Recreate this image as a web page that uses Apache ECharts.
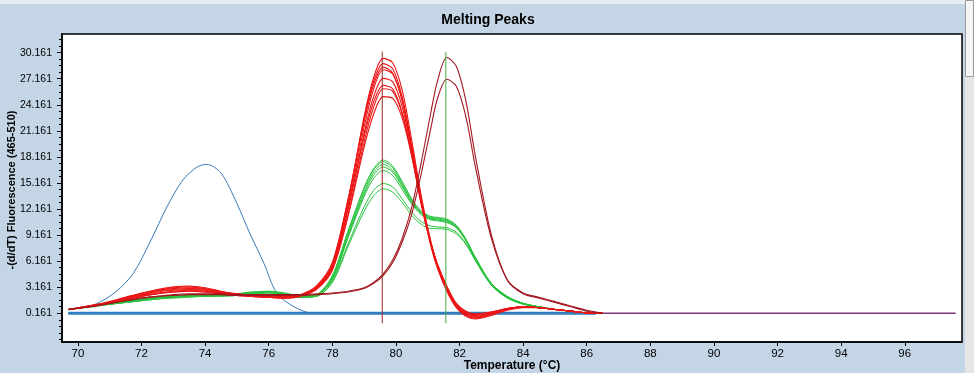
<!DOCTYPE html>
<html><head><meta charset="utf-8">
<script src="https://cdn.jsdelivr.net/npm/echarts@6/dist/echarts.min.js"></script>
<style>html,body{margin:0;padding:0;background:#c4d5e6;}#c{width:974px;height:373px;}</style>
</head><body><div id="c"></div>
<script>
// ---- data ----
const TEMPS = [69.7, 70.5, 71, 71.5, 72, 72.5, 73, 73.5, 74, 74.5, 75, 75.5, 76, 76.5, 77, 77.5, 78, 78.5, 79, 79.3, 79.6, 79.9, 80.2, 80.5, 80.8, 81.1, 81.3, 81.6, 81.9, 82.2, 82.5, 83, 83.5, 84, 84.5, 85, 85.5, 86, 86.5];

const RED_1 = [0.6, 1.1, 1.5, 2.0, 2.5, 2.9, 3.2, 3.3, 3.1, 2.7, 2.4, 2.2, 2.0, 1.9, 2.1, 3.0, 5.6, 13.0, 22.8, 27.3, 29.5, 29.0, 25.8, 20.0, 13.6, 8.4, 5.8, 3.0, 1.0, 0.0, -0.3, 0.1, 0.6, 0.9, 0.8, 0.6, 0.4, 0.2, 0.161];
const RED_2 = [0.6, 1.1, 1.5, 2.0, 2.4, 2.8, 3.1, 3.2, 3.0, 2.6, 2.3, 2.1, 2.0, 1.9, 2.2, 3.1, 5.8, 13.3, 22.6, 26.9, 28.9, 28.3, 25.0, 19.4, 13.2, 8.1, 5.6, 2.9, 0.9, -0.1, -0.4, 0.0, 0.6, 0.9, 0.8, 0.6, 0.4, 0.2, 0.161];
const RED_3 = [0.6, 1.1, 1.4, 1.9, 2.4, 2.8, 3.0, 3.1, 2.9, 2.6, 2.3, 2.2, 2.1, 2.0, 2.3, 3.3, 6.0, 13.4, 22.2, 26.5, 28.5, 27.8, 24.6, 19.0, 12.9, 7.9, 5.4, 2.7, 0.8, -0.2, -0.5, -0.1, 0.5, 0.8, 0.8, 0.6, 0.4, 0.2, 0.161];
const RED_4 = [0.6, 1.0, 1.4, 1.9, 2.3, 2.7, 2.9, 3.0, 2.9, 2.6, 2.4, 2.2, 2.1, 2.0, 2.2, 3.0, 5.4, 12.6, 21.6, 26.0, 28.2, 27.7, 24.6, 19.2, 13.1, 8.2, 5.7, 3.0, 1.0, 0.1, -0.2, 0.2, 0.7, 0.9, 0.8, 0.6, 0.4, 0.2, 0.161];
const RED_5 = [0.6, 1.0, 1.4, 1.8, 2.2, 2.6, 2.8, 2.9, 2.8, 2.5, 2.3, 2.2, 2.1, 2.0, 2.2, 3.0, 5.3, 12.2, 20.9, 25.1, 27.2, 26.8, 23.9, 18.8, 12.9, 8.1, 5.6, 2.9, 0.9, 0.0, -0.3, 0.1, 0.6, 0.9, 0.8, 0.6, 0.4, 0.2, 0.161];
const RED_6 = [0.6, 1.0, 1.4, 1.8, 2.2, 2.5, 2.7, 2.8, 2.7, 2.5, 2.3, 2.2, 2.1, 2.1, 2.3, 3.2, 5.6, 12.3, 20.5, 24.5, 26.4, 26.0, 23.2, 18.3, 12.6, 8.0, 5.6, 3.0, 1.1, 0.2, -0.1, 0.2, 0.7, 0.9, 0.8, 0.6, 0.4, 0.2, 0.161];
const RED_7 = [0.6, 1.0, 1.3, 1.7, 2.1, 2.4, 2.6, 2.7, 2.6, 2.4, 2.2, 2.1, 2.0, 2.0, 2.2, 2.9, 5.1, 11.6, 19.9, 23.9, 26.0, 25.7, 23.1, 18.4, 12.8, 8.2, 5.8, 3.2, 1.2, 0.3, 0.0, 0.3, 0.7, 0.9, 0.8, 0.6, 0.4, 0.2, 0.161];
const RED_8 = [0.6, 1.0, 1.3, 1.7, 2.1, 2.4, 2.6, 2.7, 2.6, 2.4, 2.2, 2.1, 2.0, 2.0, 2.2, 3.0, 5.2, 11.4, 19.3, 23.1, 25.1, 24.9, 22.6, 18.2, 12.8, 8.3, 5.9, 3.3, 1.3, 0.4, 0.1, 0.3, 0.7, 0.9, 0.8, 0.6, 0.4, 0.2, 0.161];

const DARK_1 = [0.6, 1.0, 1.3, 1.6, 1.9, 2.1, 2.3, 2.4, 2.4, 2.4, 2.3, 2.3, 2.3, 2.3, 2.3, 2.4, 2.5, 2.7, 3.1, 3.7, 4.7, 6.3, 8.8, 12.4, 17.6, 23.3, 26.8, 29.6, 28.6, 24.6, 18.2, 9.2, 4.0, 2.4, 1.9, 1.4, 0.9, 0.4, 0.161];
const DARK_2 = [0.6, 1.0, 1.3, 1.6, 1.9, 2.1, 2.2, 2.3, 2.3, 2.3, 2.2, 2.2, 2.2, 2.2, 2.2, 2.3, 2.4, 2.6, 3.0, 3.6, 4.5, 6.0, 8.4, 11.6, 16.3, 21.5, 24.8, 27.1, 26.3, 22.8, 17.0, 8.8, 4.0, 2.5, 2.0, 1.5, 1.0, 0.5, 0.161];

const GREEN_1 = [0.6, 1.0, 1.3, 1.5, 1.8, 2.0, 2.2, 2.3, 2.3, 2.3, 2.4, 2.6, 2.7, 2.5, 2.2, 2.3, 4.4, 9.6, 14.6, 16.8, 17.8, 17.1, 15.3, 13.3, 11.9, 11.3, 11.2, 11.0, 10.3, 8.7, 6.5, 3.5, 2.0, 1.3, 0.9, 0.6, 0.4, 0.2, 0.161];
const GREEN_2 = [0.6, 1.0, 1.3, 1.5, 1.8, 2.0, 2.1, 2.2, 2.3, 2.3, 2.4, 2.6, 2.6, 2.4, 2.1, 2.3, 4.5, 9.7, 14.6, 16.7, 17.6, 16.9, 15.1, 13.2, 11.8, 11.2, 11.1, 10.9, 10.2, 8.6, 6.4, 3.4, 1.9, 1.2, 0.9, 0.6, 0.4, 0.2, 0.161];
const GREEN_3 = [0.6, 1.0, 1.2, 1.5, 1.7, 1.9, 2.1, 2.2, 2.2, 2.2, 2.3, 2.5, 2.6, 2.4, 2.1, 2.2, 4.2, 9.3, 14.2, 16.4, 17.3, 16.6, 14.9, 13.0, 11.7, 11.1, 11.0, 10.8, 10.1, 8.6, 6.5, 3.5, 2.0, 1.3, 0.9, 0.6, 0.4, 0.2, 0.161];
const GREEN_4 = [0.6, 1.0, 1.2, 1.5, 1.7, 1.9, 2.1, 2.2, 2.2, 2.3, 2.4, 2.5, 2.6, 2.4, 2.1, 2.2, 4.1, 9.1, 13.9, 16.1, 17.0, 16.4, 14.7, 12.9, 11.6, 11.0, 10.9, 10.7, 10.1, 8.6, 6.6, 3.6, 2.1, 1.3, 0.9, 0.6, 0.4, 0.2, 0.161];
const GREEN_5 = [0.6, 1.0, 1.2, 1.4, 1.7, 1.9, 2.0, 2.1, 2.2, 2.2, 2.3, 2.5, 2.6, 2.4, 2.0, 2.2, 4.0, 8.9, 13.6, 15.7, 16.6, 16.0, 14.4, 12.7, 11.5, 10.9, 10.8, 10.6, 10.0, 8.5, 6.5, 3.6, 2.1, 1.3, 0.9, 0.6, 0.4, 0.2, 0.161];
const GREEN_6 = [0.6, 1.0, 1.2, 1.4, 1.6, 1.8, 2.0, 2.1, 2.1, 2.2, 2.3, 2.4, 2.5, 2.3, 2.0, 2.1, 3.8, 8.2, 12.4, 14.3, 15.1, 14.7, 13.3, 11.8, 10.7, 10.2, 10.1, 10.0, 9.5, 8.2, 6.3, 3.5, 2.0, 1.3, 0.9, 0.6, 0.4, 0.2, 0.161];
const GREEN_7 = [0.6, 0.9, 1.2, 1.4, 1.6, 1.8, 1.9, 2.0, 2.1, 2.1, 2.2, 2.4, 2.5, 2.3, 2.0, 2.1, 3.7, 7.9, 11.9, 13.7, 14.5, 14.1, 12.9, 11.4, 10.4, 9.9, 9.9, 9.8, 9.3, 8.1, 6.2, 3.4, 2.0, 1.2, 0.9, 0.6, 0.4, 0.2, 0.161];

const BLUE_T = [69.7, 70.5, 71.2, 71.75, 72.3, 72.8, 73.3, 73.75, 74.05, 74.5, 75, 75.4, 75.85, 76.25, 76.8, 77.4, 86.5];
const BLUE_V = [0.55, 1.12, 2.65, 4.8, 8.6, 12.4, 15.5, 17.0, 17.3, 16.3, 12.8, 9.4, 5.9, 2.5, 0.9, 0.161, 0.161];

const NEG_T = [69.7, 86.3];
const NEG_V = [0.161, 0.161];
const PURPLE_T = [69.7, 97.6];
const PURPLE_V = [0.161, 0.161];

const MARKER_T = [79.57, 81.57];
const MARKER_RANGE = [-0.99, 30.27];

const X_TICKS = [70, 72, 74, 76, 78, 80, 82, 84, 86, 88, 90, 92, 94, 96];
const Y_TICKS = [0.161, 3.161, 6.161, 9.161, 12.161, 15.161, 18.161, 21.161, 24.161, 27.161, 30.161];
const Y_MINOR = [];
for (let v = -2.839; v < 32.3; v += 0.75) Y_MINOR.push(+v.toFixed(3));

// ---- build ----
const pairs = (xs, ys) => xs.map((x, i) => [x, ys[i]]);
const FONT = "'Liberation Sans', Arial, sans-serif";
const series = [];
function line(name, xs, ys, color, width, smooth) {
  series.push({ name, type: 'line', data: pairs(xs, ys), showSymbol: false, symbol: 'none',
    smooth: smooth ? 0.3 : false, lineStyle: { color, width }, silent: true, z: 2 });
}
line('purple', PURPLE_T, PURPLE_V, '#7a3478', 1.5, false);
line('neg', NEG_T, NEG_V, '#2f7fc3', 3, false);
line('blue', BLUE_T, BLUE_V, '#3a7ab5', 1, true);
[GREEN_1, GREEN_2, GREEN_3, GREEN_4, GREEN_5, GREEN_6, GREEN_7].forEach((g, i) => line('g' + i, TEMPS, g, '#26c23c', 1, true));
[RED_1, RED_2, RED_3, RED_4, RED_5, RED_6, RED_7, RED_8].forEach((r, i) => line('r' + i, TEMPS, r, '#ec1515', 1.1, true));
[DARK_1, DARK_2].forEach((d, i) => line('d' + i, TEMPS, d, '#a3161f', 1.1, true));
line('m1', [MARKER_T[0], MARKER_T[0]], MARKER_RANGE, '#9a2a22', 1, false);
line('m2', [MARKER_T[1], MARKER_T[1]], MARKER_RANGE, '#40b040', 1, false);

const chart = echarts.init(document.getElementById('c'), null, { renderer: 'canvas' });
chart.setOption({
  animation: false,
  backgroundColor: '#c4d5e6',
  grid: { left: 62, top: 34, right: 12, bottom: 31, show: true, backgroundColor: '#fff', borderColor: '#000', borderWidth: 1.5 },
  xAxis: {
    type: 'value', min: 69.5, max: 97.8,
    axisLine: { show: true, onZero: false, lineStyle: { color: '#000', width: 1.5 } },
    axisTick: { show: true, length: 4, customValues: X_TICKS, lineStyle: { color: '#000' } },
    axisLabel: { customValues: X_TICKS, color: '#000', fontFamily: FONT, fontSize: 11.5, margin: 6 },
    splitLine: { show: false }
  },
  yAxis: [{
    type: 'value', min: -3.15, max: 32.31, position: 'left', offset: 0,
    axisLine: { show: true, lineStyle: { color: '#000', width: 1.5 } },
    axisTick: { show: true, length: 5, customValues: Y_TICKS, lineStyle: { color: '#000' } },
    axisLabel: { customValues: Y_TICKS, color: '#000', fontFamily: FONT, fontSize: 10.5, margin: 10,
      formatter: v => v.toFixed(3) },
    splitLine: { show: false }
  }, {
    type: 'value', min: -3.15, max: 32.31, position: 'left', offset: 0,
    axisLine: { show: false },
    axisTick: { show: true, length: 3, customValues: Y_MINOR, lineStyle: { color: '#000' } },
    axisLabel: { show: false },
    splitLine: { show: false }
  }],
  series,
  graphic: [
    { type: 'rect', shape: { x: 0, y: 0, width: 965, height: 4 }, style: { fill: '#e4ecf4' }, silent: true },
    { type: 'rect', shape: { x: 965, y: 0, width: 9, height: 373 }, style: { fill: '#e6e6e6' }, silent: true },
    { type: 'rect', shape: { x: 965.5, y: 0.5, width: 8, height: 76 }, style: { fill: '#f5f5f5', stroke: '#9a9a9a', lineWidth: 1 }, silent: true },
    { type: 'text', x: 488, y: 20, style: { text: 'Melting Peaks', fill: '#000', font: "bold 14px " + FONT, textAlign: 'center', textVerticalAlign: 'middle' } },
    { type: 'text', x: 512, y: 366, style: { text: 'Temperature (°C)', fill: '#000', font: "bold 12px " + FONT, textAlign: 'center', textVerticalAlign: 'middle' } },
    { type: 'text', x: 12, y: 190, rotation: Math.PI / 2, style: { text: '-(d/dT) Fluorescence (465-510)', fill: '#000', font: "bold 11px " + FONT, textAlign: 'center', textVerticalAlign: 'middle' } }
  ]
});
</script></body></html>
